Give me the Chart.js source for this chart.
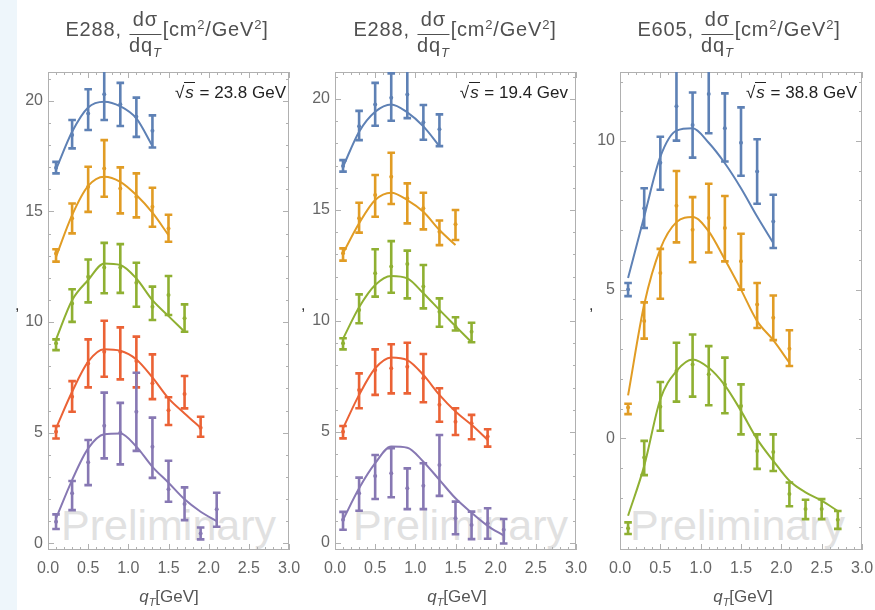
<!DOCTYPE html>
<html><head><meta charset="utf-8">
<script src="https://cdn.jsdelivr.net/npm/chart.js@4.4.1/dist/chart.umd.min.js"></script>
<style>
body{margin:0;width:875px;height:610px;background:#fff;position:relative;overflow:hidden;font-family:'Liberation Sans',Arial,sans-serif}
.strip{position:absolute;left:0;top:0;width:17px;height:610px;background:#eef6fb;z-index:0}
canvas{position:absolute;top:0;z-index:2}
.wm{position:absolute;top:504px;font-size:43px;line-height:43px;color:#e1e1e1;z-index:1;white-space:nowrap}
.title{position:absolute;top:9.4px;z-index:3;font-size:20px;letter-spacing:0.8px;color:#505050;white-space:nowrap;transform:translateX(-50%);line-height:20px}
.frac{display:inline-block;vertical-align:-16px;text-align:center;margin:0 1px}
.frac .num{display:block;border-bottom:1px solid #505050;padding:0 1px 4.7px}
.frac .den{display:block;padding-top:0}
.sub{font-size:13px;font-style:italic;position:relative;top:5px}
.sup{font-size:13px;position:relative;top:-7px}
.ann{position:absolute;top:83.6px;z-index:3;font-size:17px;line-height:17px;color:#222;white-space:nowrap}
.ann .rad{border-top:1.4px solid #222;font-style:italic;padding:0 1px}
.xt{position:absolute;top:587.6px;z-index:3;font-size:17px;line-height:17px;color:#555;transform:translateX(-50%);white-space:nowrap}
.xt .s{font-size:11px;font-style:italic;position:relative;top:4px}
.comma{position:absolute;top:297px;z-index:3;font-size:16px;line-height:16px;color:#333}
</style>
</head><body>
<div class="strip"></div>
<div class="wm" style="left:61px">Preliminary</div>
<div class="wm" style="left:353px">Preliminary</div>
<div class="wm" style="left:630px">Preliminary</div>
<canvas id="c1" width="310" height="610" style="left:0px"></canvas>
<canvas id="c2" width="300" height="610" style="left:290px"></canvas>
<canvas id="c3" width="295" height="610" style="left:580px"></canvas>
<div class="title" style="left:167px">E288, <span class="frac"><span class="num">dσ</span><span class="den">dq<span class="sub">T</span></span></span>[cm<span class="sup">2</span>/GeV<span class="sup">2</span>]</div>
<div class="title" style="left:455px">E288, <span class="frac"><span class="num">dσ</span><span class="den">dq<span class="sub">T</span></span></span>[cm<span class="sup">2</span>/GeV<span class="sup">2</span>]</div>
<div class="title" style="left:739px">E605, <span class="frac"><span class="num">dσ</span><span class="den">dq<span class="sub">T</span></span></span>[cm<span class="sup">2</span>/GeV<span class="sup">2</span>]</div>
<div class="ann" style="right:589px">√<span class="rad">s</span> = 23.8 GeV</div>
<div class="ann" style="right:307px">√<span class="rad">s</span> = 19.4 Gev</div>
<div class="ann" style="right:18px">√<span class="rad">s</span> = 38.8 GeV</div>
<div class="xt" style="left:169px"><i>q</i><span class="s">T</span>[GeV]</div>
<div class="xt" style="left:457px"><i>q</i><span class="s">T</span>[GeV]</div>
<div class="xt" style="left:743px"><i>q</i><span class="s">T</span>[GeV]</div>
<div class="comma" style="left:15px">,</div>
<div class="comma" style="left:301px">,</div>
<div class="comma" style="left:589px">,</div>
<script>
// ---------- data ----------
const qT = [0.1, 0.3, 0.5, 0.7, 0.9, 1.1, 1.3, 1.5, 1.7, 1.9, 2.1, 2.3, 2.5, 2.7];
const xTickLabels = ['0.0','0.5','1.0','1.5','2.0','2.5','3.0'];

// Panel 1: E288, sqrt(s) = 23.8 GeV
const a_blue_val   = [16.97, 18.45, 19.43, 20.29, 19.84, 19.28, 18.65];
const a_blue_lo    = [16.72, 17.85, 18.68, 19.13, 18.86, 18.37, 17.89];
const a_blue_hi    = [17.24, 19.13, 20.52, 21.60, 20.81, 20.14, 19.34];
const a_blue_fit   = [16.90, 18.60, 19.70, 19.96, 19.75, 19.20, 17.95];
const a_orange_val = [13.10, 14.69, 16.11, 16.94, 16.04, 15.66, 15.21, 14.23];
const a_orange_lo  = [12.73, 14.01, 14.98, 15.66, 14.91, 14.73, 14.31, 13.63];
const a_orange_hi  = [13.29, 15.36, 17.02, 18.22, 16.99, 16.72, 16.07, 14.85];
const a_orange_fit = [12.95, 14.83, 16.15, 16.57, 16.34, 15.74, 14.94, 13.93];
const a_green_val  = [9.04, 10.84, 12.05, 12.47, 12.47, 11.78, 10.69, 11.22, 10.17];
const a_green_lo   = [8.73, 10.01, 10.89, 11.30, 11.32, 10.69, 10.09, 10.32, 9.56];
const a_green_hi   = [9.22, 11.48, 12.83, 13.58, 13.52, 12.68, 11.60, 12.08, 10.80];
const a_green_fit  = [9.22, 10.99, 11.90, 12.65, 12.58, 11.97, 10.99, 10.27, 9.56];
const a_red_val    = [5.04, 6.62, 8.13, 8.66, 8.66, 8.24, 7.23, 6.02, 6.75, 5.22];
const a_red_lo     = [4.74, 5.95, 7.05, 7.53, 7.41, 7.05, 6.52, 5.35, 6.10, 4.82];
const a_red_hi     = [5.30, 7.33, 9.22, 10.06, 9.76, 9.34, 8.54, 6.60, 7.56, 5.72];
const a_red_fit    = [5.20, 6.85, 8.21, 8.77, 8.70, 8.31, 7.50, 6.55, 5.87, 5.22];
const a_purple_val = [0.98, 2.26, 3.66, 5.31, 5.00, 5.95, 4.37, 2.44, 1.78, 0.45, 1.54];
const a_purple_lo  = [0.65, 1.50, 2.63, 3.84, 3.57, 4.18, 2.96, 1.88, 1.05, 0.18, 0.75];
const a_purple_hi  = [1.31, 2.82, 4.67, 6.81, 6.35, 7.71, 5.68, 3.73, 2.53, 0.72, 2.29];
const a_purple_fit = [1.13, 2.86, 4.29, 4.93, 4.97, 4.37, 3.46, 2.74, 1.99, 1.43, 1.00];

// Panel 2: E288, sqrt(s) = 19.4 GeV
const b_blue_val   = [16.98, 18.78, 19.76, 20.06, 20.21, 18.95, 18.64];
const b_blue_lo    = [16.73, 18.15, 18.80, 19.02, 19.14, 18.17, 17.88];
const b_blue_hi    = [17.25, 19.47, 20.73, 21.16, 21.60, 19.73, 19.31];
const b_blue_fit   = [16.95, 18.53, 19.43, 19.76, 19.40, 18.77, 17.88];
const b_orange_val = [13.05, 14.63, 15.68, 16.50, 15.53, 15.08, 14.02, 14.36];
const b_orange_lo  = [12.72, 13.98, 14.70, 15.27, 14.40, 14.13, 13.42, 13.65];
const b_orange_hi  = [13.27, 15.33, 16.58, 17.58, 16.20, 15.78, 14.53, 15.00];
const b_orange_fit = [13.05, 14.40, 15.45, 15.78, 15.45, 14.92, 14.10, 13.42];
const b_green_val  = [9.00, 10.50, 12.15, 12.45, 12.57, 11.55, 10.42, 9.74, 9.52];
const b_green_lo   = [8.72, 9.90, 11.10, 11.27, 11.02, 10.57, 9.74, 9.57, 9.04];
const b_green_hi   = [9.22, 11.20, 13.23, 13.60, 13.17, 12.52, 11.02, 10.17, 9.92];
const b_green_fit  = [9.20, 10.62, 11.62, 12.03, 11.92, 11.25, 10.50, 9.77, 9.04];
const b_red_val    = [5.01, 6.89, 7.79, 7.87, 7.94, 7.42, 6.22, 5.46, 5.39, 4.79];
const b_red_lo     = [4.71, 6.07, 6.67, 6.74, 6.74, 6.34, 5.46, 4.86, 4.67, 4.34];
const b_red_hi     = [5.27, 7.64, 8.72, 8.95, 9.02, 8.51, 6.97, 6.07, 5.77, 5.12];
const b_red_fit    = [5.17, 6.67, 7.87, 8.36, 8.24, 7.57, 6.67, 5.92, 5.32, 4.64];
const b_purple_val = [1.04, 2.24, 3.02, 3.14, 2.46, 2.57, 3.51, 1.11, 0.81, 0.89, 0.59];
const b_purple_lo  = [0.59, 1.45, 1.98, 2.06, 1.52, 1.52, 2.12, 0.39, 0.17, 0.19, -0.03];
const b_purple_hi  = [1.40, 2.94, 3.96, 4.27, 3.36, 3.59, 4.86, 1.86, 1.41, 1.56, 1.08];
const b_purple_fit = [1.04, 2.46, 3.59, 4.34, 4.29, 3.66, 2.84, 2.01, 1.36, 0.77, 0.33];

// Panel 3: E605, sqrt(s) = 38.8 GeV
const c_blue_val   = [5.00, 7.74, 9.27, 11.17, 10.54, 11.58, 10.43, 9.94, 8.97, 7.29];
const c_blue_lo    = [4.78, 7.07, 8.36, 10.01, 9.44, 10.26, 9.31, 8.83, 7.89, 6.40];
const c_blue_hi    = [5.22, 8.41, 10.14, 12.60, 11.63, 12.60, 11.60, 11.13, 10.06, 8.19];
const c_blue_fit   = [5.39, 7.46, 9.47, 10.35, 10.43, 9.94, 9.25, 8.41, 7.46, 6.57];
const c_orange_val = [1.03, 3.94, 5.56, 7.82, 7.01, 7.41, 7.07, 5.95, 4.50, 4.05, 3.01];
const c_orange_lo  = [0.81, 3.35, 4.69, 6.59, 5.92, 6.25, 5.95, 5.00, 3.71, 3.30, 2.43];
const c_orange_hi  = [1.16, 4.57, 6.37, 8.99, 8.11, 8.56, 8.15, 6.88, 5.22, 4.80, 3.63];
const c_orange_fit = [1.44, 4.50, 6.37, 7.27, 7.44, 6.96, 6.01, 5.00, 3.94, 3.30, 2.54];
const c_green_val  = [-3.03, -0.65, 1.06, 2.26, 2.48, 2.15, 1.81, 1.08, -0.43, -0.46, -1.88, -2.38, -2.38, -2.74];
const c_green_lo   = [-3.22, -1.24, 0.25, 1.23, 1.40, 1.11, 0.84, 0.13, -1.03, -1.10, -2.29, -2.72, -2.72, -3.05];
const c_green_hi   = [-2.83, -0.09, 1.89, 3.21, 3.49, 3.10, 2.71, 1.81, 0.13, 0.13, -1.49, -2.07, -2.05, -2.45];
const c_green_fit  = [-2.61, -0.93, 1.31, 2.26, 2.65, 2.37, 1.78, 0.92, -0.03, -0.76, -1.43, -1.82, -2.10, -2.45];

const COLORS = {blue:'#5E81B5', orange:'#E19C24', green:'#8FB032', red:'#EB6235', purple:'#8778B3'};
const FONT = "'Liberation Sans', Arial, sans-serif";

// ---------- plugins ----------
const frameTicks = {
  id: 'frameTicks',
  beforeDatasetsDraw(chart) {
    const {ctx, chartArea: a, scales: {x, y}} = chart;
    ctx.save();
    ctx.strokeStyle = '#b0b0b0'; ctx.lineWidth = 1;
    ctx.strokeRect(a.left + 0.5, a.top + 0.5, a.right - a.left - 1, a.bottom - a.top - 1);
    ctx.beginPath();
    for (let v = Math.ceil(y.min); v <= y.max; v++) {
      const p = Math.round(y.getPixelForValue(v)) + 0.5;
      const L = (v % 5 === 0) ? 6 : 3;
      ctx.moveTo(a.left, p); ctx.lineTo(a.left + L, p);
      ctx.moveTo(a.right, p); ctx.lineTo(a.right - L, p);
    }
    for (let k = Math.ceil(x.min * 10); k <= Math.floor(x.max * 10 + 1e-6); k++) {
      const p = Math.round(x.getPixelForValue(k / 10)) + 0.5;
      const L = (k % 5 === 0) ? 6 : 3;
      ctx.moveTo(p, a.bottom); ctx.lineTo(p, a.bottom - L);
      ctx.moveTo(p, a.top); ctx.lineTo(p, a.top + L);
    }
    ctx.stroke();
    ctx.restore();
  }
};

const errorBars = {
  id: 'errorBars',
  afterDatasetsDraw(chart) {
    const {ctx, chartArea: a, scales: {x, y}} = chart;
    ctx.save();
    ctx.beginPath(); ctx.rect(a.left, a.top, a.right - a.left, a.bottom - a.top); ctx.clip();
    chart.data.datasets.forEach(ds => {
      if (!ds.errLo) return;
      ctx.strokeStyle = ds.borderColor;
      ctx.lineWidth = 2.6;
      ctx.lineCap = 'butt';
      ds.data.forEach((pt, j) => {
        const px = x.getPixelForValue(pt.x);
        const lo = y.getPixelForValue(ds.errLo[j]);
        const hi = y.getPixelForValue(ds.errHi[j]);
        ctx.beginPath();
        ctx.moveTo(px, lo); ctx.lineTo(px, hi);
        ctx.moveTo(px - 3.8, lo); ctx.lineTo(px + 3.8, lo);
        ctx.moveTo(px - 3.8, hi); ctx.lineTo(px + 3.8, hi);
        ctx.stroke();
      });
    });
    ctx.restore();
  }
};

function series(color, val, lo, hi, fit) {
  return [
    {data: fit.map((v, i) => ({x: qT[i], y: v})), showLine: true, borderColor: color, borderWidth: 2,
     pointRadius: 0, cubicInterpolationMode: 'monotone', fill: false},
    {data: val.map((v, i) => ({x: qT[i], y: v})), showLine: false, borderColor: color, backgroundColor: color,
     pointRadius: 2, pointBorderWidth: 0, errLo: lo, errHi: hi}
  ];
}

function makePanel(id, yMin, yMax, yW, padR, list) {
  const datasets = [];
  list.forEach(s => datasets.push(...series(...s)));
  new Chart(document.getElementById(id), {
    type: 'scatter',
    data: {datasets},
    options: {
      responsive: false, animation: false, devicePixelRatio: 1,
      layout: {padding: {left: 0, right: padR, top: 72, bottom: 0}},
      plugins: {legend: {display: false}, tooltip: {enabled: false}},
      scales: {
        x: {type: 'linear', min: 0, max: 3,
            ticks: {stepSize: 0.5, autoSkip: false, maxRotation: 0, padding: 9, color: '#666',
                    font: {family: FONT, size: 16},
                    callback: (v) => xTickLabels[Math.round(v * 2)]},
            grid: {display: false, drawTicks: false}, border: {display: false},
            afterFit(s) { s.height = 60; s.paddingLeft = 0; s.paddingRight = 0; }},
        y: {type: 'linear', min: yMin, max: yMax,
            ticks: {stepSize: 5, includeBounds: false, padding: 5, color: '#666', font: {family: FONT, size: 16}},
            grid: {display: false, drawTicks: false}, border: {display: false},
            afterFit(s) { s.width = yW; s.paddingTop = 0; s.paddingBottom = 0; }}
      }
    },
    plugins: [frameTicks, errorBars]
  });
}

makePanel('c1', -0.3, 21.3, 48, 21, [
  [COLORS.blue, a_blue_val, a_blue_lo, a_blue_hi, a_blue_fit],
  [COLORS.orange, a_orange_val, a_orange_lo, a_orange_hi, a_orange_fit],
  [COLORS.green, a_green_val, a_green_lo, a_green_hi, a_green_fit],
  [COLORS.red, a_red_val, a_red_lo, a_red_hi, a_red_fit],
  [COLORS.purple, a_purple_val, a_purple_lo, a_purple_hi, a_purple_fit]
]);
makePanel('c2', -0.32, 21.22, 45, 14, [
  [COLORS.blue, b_blue_val, b_blue_lo, b_blue_hi, b_blue_fit],
  [COLORS.orange, b_orange_val, b_orange_lo, b_orange_hi, b_orange_fit],
  [COLORS.green, b_green_val, b_green_lo, b_green_hi, b_green_fit],
  [COLORS.red, b_red_val, b_red_lo, b_red_hi, b_red_fit],
  [COLORS.purple, b_purple_val, b_purple_lo, b_purple_hi, b_purple_fit]
]);
makePanel('c3', -3.76, 12.32, 40, 13, [
  [COLORS.blue, c_blue_val, c_blue_lo, c_blue_hi, c_blue_fit],
  [COLORS.orange, c_orange_val, c_orange_lo, c_orange_hi, c_orange_fit],
  [COLORS.green, c_green_val, c_green_lo, c_green_hi, c_green_fit]
]);
</script>
</body></html>
